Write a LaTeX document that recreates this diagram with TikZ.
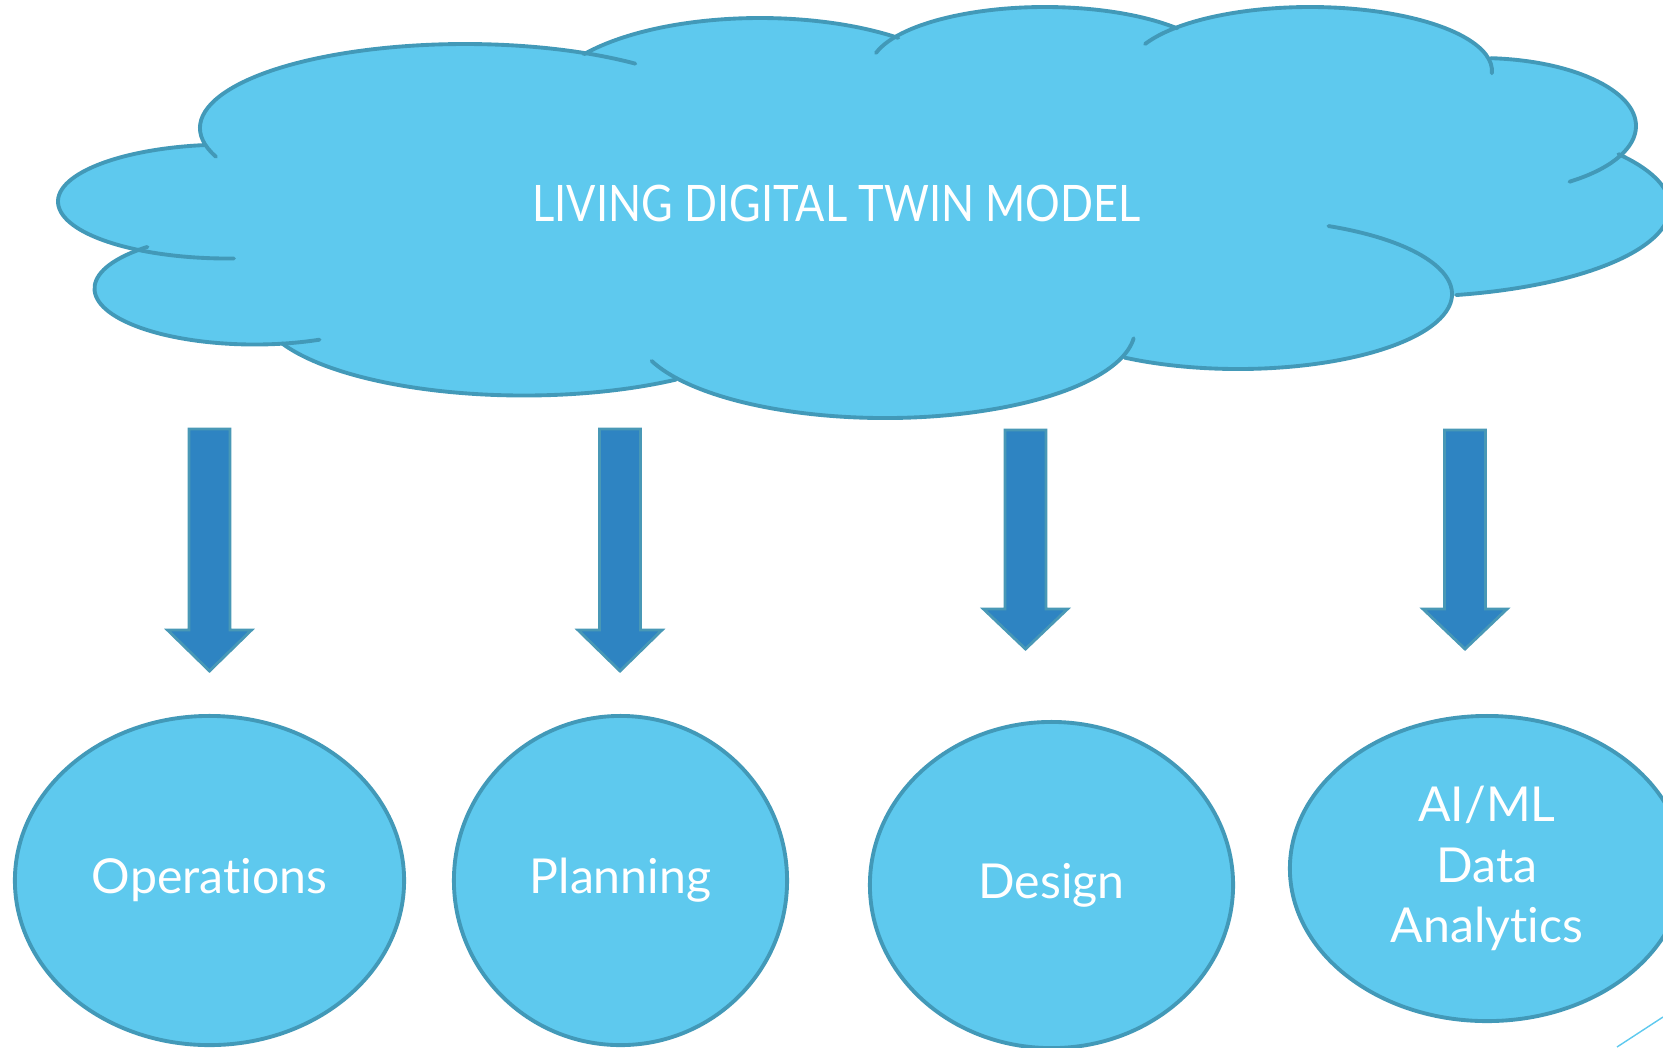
\documentclass[tikz,border=0pt]{standalone}
\usepackage{fontspec}
\setmainfont{Lato}[Ligatures=NoCommon]
\usetikzlibrary{shapes.geometric}

\definecolor{cloudfill}{RGB}{94,201,238}
\definecolor{cloudedge}{RGB}{66,153,184}
\definecolor{arrowfill}{RGB}{46,132,194}
\definecolor{arrowedge}{RGB}{72,152,182}

\tikzset{
    lobe/.style={draw=cloudedge, line width=1.1pt, line cap=round},
    usecase/.style={ellipse, draw=cloudedge, line width=1.1pt, fill=cloudfill,
        text=white, inner sep=0pt, align=center,
        font=\fontsize{13.7}{17.2}\selectfont},
    blockarrow/.style={fill=arrowfill, draw=arrowedge, line width=0.8pt}
}

\begin{document}
\begin{tikzpicture}[x=0.01cm, y=0.01cm]
    % Page frame, one unit per pixel of the slide
    \useasboundingbox (0,0) rectangle (1663,-1047);

    % Fill the body of the cloud: the middle part and every lobe
    \fill[cloudfill] (204,-145) -- (584,-54) -- (898,-38) -- (1177,-28) -- (1491,-58)
        -- (1618,-154) -- (1456,-295) -- (1124,-358) -- (677,-379) -- (282,-343)
        -- (147,-248) -- cycle;
    \fill[cloudfill] (228,-201.5) ellipse[x radius=170, y radius=57]
        (254.5,-288.5) ellipse[x radius=160, y radius=56]
        (524,-307.5) ellipse[x radius=265, y radius=88]
        (885,-329) ellipse[x radius=250, y radius=89]
        (1238,-294) ellipse[x radius=214, y radius=75]
        (1400,-207) ellipse[x radius=270, y radius=90]
        (1480,-126) ellipse[x radius=156, y radius=68]
        (1310,-71) ellipse[x radius=182, y radius=64]
        (1045,-69) ellipse[x radius=175, y radius=62]
        (760,-103) ellipse[x radius=215, y radius=85]
        (465,-128) ellipse[x radius=265, y radius=84];

    % Outline of the cloud, one arc per lobe
    \draw[lobe] (228,-201.5) ++(98:170 and 57) arc[start angle=98, end angle=272, x radius=170, y radius=57];
    \draw[lobe] (254.5,-288.5) ++(132:160 and 56) arc[start angle=132, end angle=294, x radius=160, y radius=56];
    \draw[lobe] (524,-307.5) ++(204:265 and 88) arc[start angle=204, end angle=305, x radius=265, y radius=88];
    \draw[lobe] (885,-329) ++(201:250 and 89) arc[start angle=201, end angle=354, x radius=250, y radius=89];
    \draw[lobe] (1238,-294) ++(65:214 and 75) arc[start angle=65, end angle=-122, x radius=214, y radius=75];
    \draw[lobe] (1400,-207) ++(36:270 and 90) arc[start angle=36, end angle=-78, x radius=270, y radius=90];
    \draw[lobe] (1480,-126) ++(86:156 and 68) arc[start angle=86, end angle=-55, x radius=156, y radius=68];
    \draw[lobe] (1310,-71) ++(155:182 and 64) arc[start angle=155, end angle=-2, x radius=182, y radius=64];
    \draw[lobe] (1045,-69) ++(165:175 and 62) arc[start angle=165, end angle=41, x radius=175, y radius=62];
    \draw[lobe] (760,-103) ++(145:215 and 85) arc[start angle=145, end angle=50, x radius=215, y radius=85];
    \draw[lobe] (465,-128) ++(200:265 and 84) arc[start angle=200, end angle=50, x radius=265, y radius=84];

    % Title inside the cloud
    \node[text=white, font=\fontsize{14.3}{17}\selectfont, xscale=0.862, transform shape]
        (title) at (836.5,-203.5) {LIVING DIGITAL TWIN MODEL};

    % Four block arrows pointing down
    \foreach \c/\t/\b/\p in {209.5/429/630/671, 620/429/630/671, 1025.5/430/609/649, 1465/430/609/649}
        \filldraw[blockarrow] (\c-20.5,-\t) -- (\c+20.5,-\t) -- (\c+20.5,-\b) -- (\c+42,-\b)
            -- (\c,-\p) -- (\c-42,-\b) -- (\c-20.5,-\b) -- cycle;

    % The four uses of the model
    \node[usecase, minimum width=3.89cm, minimum height=3.29cm] (ops) at (209.5,-880.5) {Operations};
    \node[usecase, minimum width=3.33cm, minimum height=3.29cm] (plan) at (620.5,-880.5) {Planning};
    \node[usecase, minimum width=3.63cm, minimum height=3.26cm] (design) at (1051.5,-885) {Design};
    \node[usecase, minimum width=3.94cm, minimum height=3.05cm] (aiml) at (1487,-868.5) {AI/ML\\Data\\Analytics};

    % Thin line of the slide theme in the corner
    \draw[cloudfill, line width=0.4pt] (1617,-1047) -- (1663,-1017);
\end{tikzpicture}
\end{document}
